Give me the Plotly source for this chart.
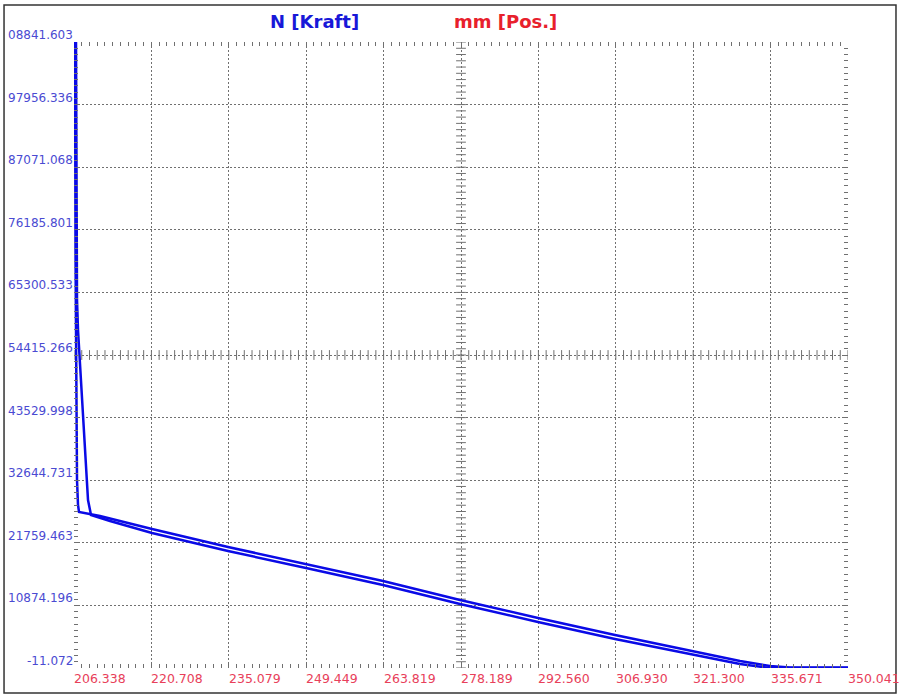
import plotly.graph_objects as go

# ---- data ----
x_ticks = [206.338, 220.708, 235.079, 249.449, 263.819, 278.189, 292.560,
           306.930, 321.300, 335.671, 350.041]
x_tick_labels = ["206.338", "220.708", "235.079", "249.449", "263.819", "278.189",
                 "292.560", "306.930", "321.300", "335.671", "350.041"]
y_ticks = [-11.072, 10874.196, 21759.463, 32644.731, 43529.998, 54415.266,
           65300.533, 76185.801, 87071.068, 97956.336, 108841.603]
y_tick_labels = ["-11.072", "10874.196", "21759.463", "32644.731", "43529.998",
                 "54415.266", "65300.533", "76185.801", "87071.068", "97956.336",
                 "08841.603"]

# branch 1 (left vertical, upper slope)
pos_1 = [206.524, 206.524, 206.616, 206.709, 206.802, 206.895, 207.081, 207.266,
         211.165, 220.820, 234.930, 249.411, 263.707, 278.003, 292.485, 306.781,
         321.077, 329.989, 335.559, 339.271, 350.041]
force_1 = [108841.6, 90062, 72673, 58762, 43113, 32680, 28332, 27115,
           26420, 24159, 21029, 18073, 15117, 11813, 8683, 5727,
           2945, 1206, 337, 76, 76]
# branch 2 (right vertical, lower slope)
pos_2 = [206.709, 206.802, 206.895, 207.081, 207.638, 208.195, 208.566, 208.937,
         209.494, 213.022, 220.820, 234.930, 249.411, 263.707, 278.003, 292.485,
         306.781, 321.077, 329.989, 335.559, 350.041]
force_2 = [108841.6, 81368, 63979, 58762, 50068, 41374, 34418, 29202,
           26594, 25550, 23464, 20334, 17378, 14422, 11118, 7988,
           5032, 2423, 685, -11.072, -11.072]

x_minor_step = (x_ticks[-1] - x_ticks[0]) / 100
y_minor_step = (y_ticks[-1] - y_ticks[0]) / 100

BLUE = "#0a0ae6"
GRID = "#707070"
YLAB = "#4a4ad2"
XLAB = "#e8405a"
FONT = "DejaVu Sans"

fig = go.Figure()

# center crosshair minor tick marks
x_minor = [x_ticks[0] + i * x_minor_step for i in range(101)]
y_minor = [y_ticks[0] + i * y_minor_step for i in range(101)]
fig.add_trace(go.Scatter(x=x_minor, y=[y_ticks[5]] * len(x_minor), mode="markers",
                         marker=dict(symbol="line-ns-open", size=7, color=GRID,
                                     line=dict(color=GRID, width=1)),
                         hoverinfo="skip", showlegend=False))
fig.add_trace(go.Scatter(x=[x_ticks[5]] * len(y_minor), y=y_minor, mode="markers",
                         marker=dict(symbol="line-ew-open", size=7, color=GRID,
                                     line=dict(color=GRID, width=1)),
                         hoverinfo="skip", showlegend=False))

fig.add_trace(go.Scatter(x=pos_1, y=force_1, mode="lines",
                         line=dict(color=BLUE, width=2.5), showlegend=False))
fig.add_trace(go.Scatter(x=pos_2, y=force_2, mode="lines",
                         line=dict(color=BLUE, width=2.5), showlegend=False))

eps_x = 0.002
eps_y = 1.0
fig.update_xaxes(range=[x_ticks[0] - eps_x, x_ticks[-1] + eps_x],
                 tickmode="array", tickvals=x_ticks, showticklabels=False,
                 showgrid=True, gridcolor=GRID, griddash="2px,2px", gridwidth=1.2,
                 zeroline=False, showline=False,
                 ticks="inside", ticklen=5, tickcolor=GRID, mirror="ticks",
                 minor=dict(ticks="inside", ticklen=4, dtick=x_minor_step,
                            tick0=x_ticks[0], tickcolor=GRID, showgrid=False))
fig.update_yaxes(range=[y_ticks[0] - eps_y, y_ticks[-1] + eps_y],
                 tickmode="array", tickvals=y_ticks, showticklabels=False,
                 showgrid=True, gridcolor=GRID, griddash="2px,2px", gridwidth=1.2,
                 zeroline=False, showline=False,
                 ticks="inside", ticklen=5, tickcolor=GRID, mirror="ticks",
                 minor=dict(ticks="inside", ticklen=4, dtick=y_minor_step,
                            tick0=y_ticks[0], tickcolor=GRID, showgrid=False))

ann = []
for v, t in zip(x_ticks, x_tick_labels):
    ann.append(dict(x=v, y=0, xref="x", yref="paper", text=t, showarrow=False,
                    xanchor="left", yanchor="top", xshift=-2, yshift=-1,
                    font=dict(family=FONT, size=12.5, color=XLAB)))
for v, t in zip(y_ticks, y_tick_labels):
    ann.append(dict(x=0, y=v, xref="paper", yref="y", text=t, showarrow=False,
                    xanchor="right", yanchor="bottom", xshift=1, yshift=-2,
                    font=dict(family=FONT, size=12, color=YLAB)))
ann.append(dict(x=0.311, y=1.033, xref="paper", yref="paper", text="<b>N [Kraft]</b>",
                showarrow=False, xanchor="center", yanchor="middle",
                font=dict(family=FONT, size=18, color="#1818d8")))
ann.append(dict(x=0.558, y=1.033, xref="paper", yref="paper", text="<b>mm [Pos.]</b>",
                showarrow=False, xanchor="center", yanchor="middle",
                font=dict(family=FONT, size=18, color="#e8202c")))

fig.update_layout(
    width=902, height=698,
    margin=dict(l=74, r=54, t=42, b=30),
    paper_bgcolor="white", plot_bgcolor="white",
    annotations=ann,
    shapes=[dict(type="rect", xref="paper", yref="paper",
                 x0=-0.0904, x1=1.0620, y0=-0.0399, y1=1.0591,
                 line=dict(color="#333333", width=1.5), layer="below")],
)

fig.write_html("out.html", config={"displayModeBar": False},
               post_script="document.body.style.margin='0';document.body.style.overflow='hidden';")
